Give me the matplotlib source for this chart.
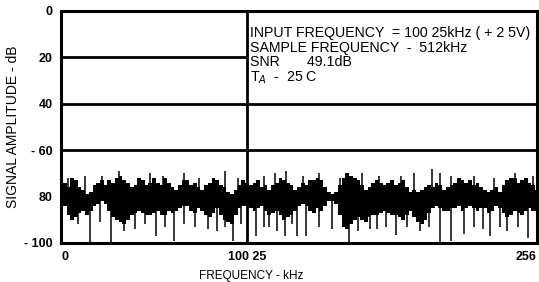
import matplotlib.pyplot as plt
import numpy as np

plt.rcParams['font.family'] = ['Liberation Sans', 'DejaVu Sans']

# noise floor envelope, read every 2 kHz from 0 to 256 kHz (dB)
noise_top = [-76, -74, -76, -72, -73, -76, -77, -79, -78, -75, -74, -73, -75,
             -73, -74, -72, -71, -73, -74, -76, -75, -72, -73, -75, -74, -72,
             -74, -75, -72, -74, -76, -77, -75, -73, -73, -75, -74, -76, -77,
             -75, -74, -72, -73, -75, -76, -78, -79, -77, -75, -73, -74, -75,
             -74, -73, -76, -75, -77, -75, -74, -72, -73, -74, -75, -77, -76,
             -74, -75, -73, -73, -72, -73, -76, -78, -79, -78, -75, -72, -70,
             -71, -72, -73, -75, -77, -76, -74, -73, -74, -75, -74, -73, -75,
             -74, -73, -76, -78, -77, -78, -77, -76, -75, -76, -74, -75, -77,
             -76, -75, -74, -72, -73, -74, -73, -75, -74, -76, -77, -78, -77,
             -76, -78, -75, -73, -72, -72, -74, -73, -72, -74, -75, -77]
noise_bot = [-86, -84, -88, -90, -89, -87, -86, -88, -86, -84, -83, -82, -83,
             -86, -89, -90, -91, -92, -90, -88, -87, -86, -87, -88, -88, -87,
             -86, -88, -88, -86, -87, -86, -85, -84, -84, -86, -87, -85, -86,
             -88, -89, -87, -85, -88, -90, -91, -92, -88, -85, -84, -84, -85,
             -86, -85, -84, -86, -88, -87, -86, -88, -90, -89, -88, -86, -84,
             -83, -84, -86, -87, -85, -86, -84, -82, -82, -83, -88, -93, -94,
             -92, -90, -89, -90, -91, -89, -88, -88, -87, -86, -87, -88, -88,
             -89, -90, -88, -86, -89, -91, -92, -90, -87, -85, -84, -85, -86,
             -86, -85, -85, -84, -86, -85, -84, -85, -86, -85, -85, -87, -86,
             -84, -85, -87, -89, -88, -86, -87, -88, -86, -85, -86, -86]
freq = np.arange(len(noise_top)) * 2.0

# single bins sticking out of the noise
down_f = [9, 15.6, 21, 27, 34, 40, 45, 51, 56, 61, 66, 72, 79, 84, 88, 92.5,
          97, 105, 109, 112, 116, 120.5, 124, 127, 132, 139, 146, 155, 160,
          166, 170, 175, 180, 186, 193, 198, 204, 210, 217, 222, 227, 231,
          236, 240, 246, 251]
down_db = [-92, -100, -91, -100, -95, -94, -92, -97, -93, -99, -92, -93, -94,
           -95, -93, -99, -92, -97, -93, -93, -95, -97, -92, -97, -97, -93,
           -94, -100, -95, -94, -94, -93, -96.5, -93, -95, -93, -100, -99,
           -96, -93, -94, -97, -93, -95, -93, -98]
up_f = [4, 13, 22, 31, 48, 55, 66, 74, 88, 95, 109, 115, 121, 130, 139, 150,
        162, 171, 183, 190, 199.5, 204, 210, 222, 233, 244, 254]
up_db = [-72, -71, -71, -69, -70, -71, -70, -72, -69, -72, -71, -70, -69,
         -71, -70, -72, -70, -71, -71, -70, -68, -70, -71, -71, -72, -70, -71]

signal_f = 100.25
signal_db = 0

fig = plt.figure(figsize=(5.39, 2.82), dpi=100)
ax = fig.add_axes([0.1132, 0.1383, 0.883, 0.8227])

ax.fill_between(freq, noise_bot, noise_top, step='mid', color='black', lw=0)
ax.vlines(down_f, -80, down_db, color='black', lw=1.1)
ax.vlines(up_f, -80, up_db, color='black', lw=1.1)
ax.vlines(signal_f, -100, signal_db, color='black', lw=2)

ax.hlines(-20, 0, signal_f, color='black', lw=2, zorder=0)
ax.axhline(-40, color='black', lw=2, zorder=0)
ax.axhline(-60, color='black', lw=2, zorder=0)

ax.set_xlim(0, 256)
ax.set_ylim(-100, 0)
ax.set_yticks([0, -20, -40, -60, -80, -100])
ax.set_yticklabels(['0', '20', '40', '- 60', '80', '- 100'])
ax.set_xticks([0, 100.25, 256])
ax.set_xticklabels(['0', '100 25', '256'])
xl = ax.get_xticklabels()
xl[0].set_ha('left')
xl[2].set_ha('right')
ax.tick_params(length=0, labelsize=9, pad=6)
for t in ax.get_xticklabels() + ax.get_yticklabels():
    t.set_fontweight('bold')

for s in ax.spines.values():
    s.set_linewidth(2.2)

ax.set_xlabel('FREQUENCY - kHz', fontsize=8.5, labelpad=5, x=0.40)
ax.set_ylabel('SIGNAL AMPLITUDE - dB', fontsize=10, labelpad=3)

ax.text(0.397, 0.935, 'INPUT FREQUENCY  = 100 25kHz ( + 2 5V)\n'
        'SAMPLE FREQUENCY  -  512kHz\nSNR       49.1dB\nT$_A$  -  25 C',
        transform=ax.transAxes, fontsize=10.2, va='top', ha='left',
        linespacing=1.05)

fig.savefig('out.png', dpi=100)
